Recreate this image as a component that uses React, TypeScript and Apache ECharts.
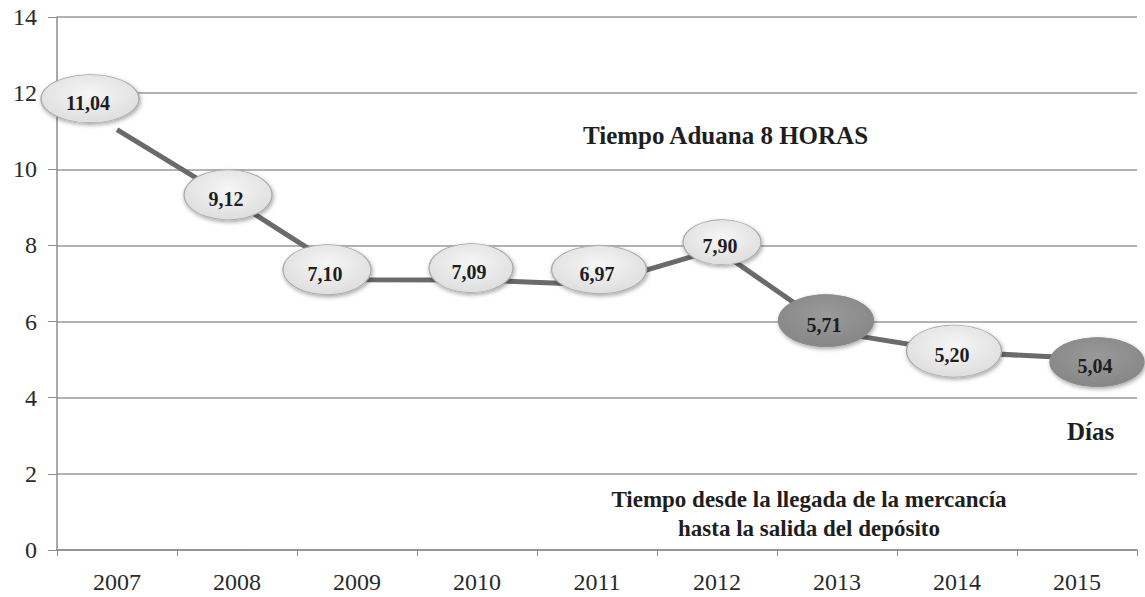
import React, { useEffect, useRef } from "react";
import * as echarts from "echarts";

const years = ["2007", "2008", "2009", "2010", "2011", "2012", "2013", "2014", "2015"];
const days = [11.04, 9.12, 7.1, 7.09, 6.97, 7.9, 5.71, 5.2, 5.04];
const darkYears = ["2013", "2015"];
const yTicks = { min: 0, max: 14, interval: 2 };

// label-bubble placement (style only, pixels relative to each point)
const bubbleShift: [number, number][] = [
  [-27, -31], [-9, -8], [-30, -10], [-6, -12], [2, -15], [5, -7], [-11, -12], [-3, -1], [20, 4],
];
const bubbleSize: [number, number][] = [
  [98, 48], [88, 50], [88, 50], [84, 49], [95, 48], [78, 45], [95, 52], [95, 52], [94, 49],
];

const SERIF = "Liberation Serif";

export default function App() {
  const ref = useRef<HTMLDivElement>(null);
  useEffect(() => {
    document.body.style.margin = "0";
    const chart = echarts.init(ref.current!, null, { renderer: "svg" });
    const light = {
      type: "radial", x: 0.5, y: 0.4, r: 0.65,
      colorStops: [{ offset: 0, color: "#f6f6f6" }, { offset: 1, color: "#dcdcdc" }],
    };
    const dark = {
      type: "radial", x: 0.5, y: 0.4, r: 0.65,
      colorStops: [{ offset: 0, color: "#9a9a9a" }, { offset: 1, color: "#858585" }],
    };
    const bubbles = days.map((v, i) => {
      const isDark = darkYears.includes(years[i]);
      return {
        value: v,
        symbolSize: bubbleSize[i],
        symbolOffset: bubbleShift[i],
        itemStyle: {
          color: isDark ? dark : light,
          opacity: 1,
          borderColor: isDark ? "#8a8a8a" : "#a9a9a9",
          borderWidth: 1,
          shadowBlur: 4,
          shadowColor: "rgba(0,0,0,0.35)",
          shadowOffsetY: 2,
          shadowOffsetX: 1,
        },
      };
    });
    chart.setOption({
      animation: false,
      grid: { left: 57, right: 8, top: 17, bottom: 47, containLabel: false },
      xAxis: {
        type: "category",
        data: years,
        boundaryGap: true,
        axisLine: { lineStyle: { color: "#8c8c8c", width: 1.5 } },
        axisTick: { show: true, length: 6, lineStyle: { color: "#8c8c8c" } },
        axisLabel: { color: "#2a2a2a", fontFamily: SERIF, fontSize: 24, margin: 20 },
        splitLine: { show: false },
      },
      yAxis: {
        type: "value",
        min: yTicks.min,
        max: yTicks.max,
        interval: yTicks.interval,
        axisLine: { show: true, lineStyle: { color: "#8c8c8c", width: 1.5 } },
        axisTick: { show: true, length: 9, lineStyle: { color: "#8c8c8c" } },
        axisLabel: { color: "#2a2a2a", fontFamily: SERIF, fontSize: 24, margin: 20 },
        splitLine: { lineStyle: { color: "#9a9a9a", width: 1.5 } },
      },
      series: [
        {
          type: "line",
          data: days,
          symbol: "none",
          lineStyle: { color: "#6a6a6a", width: 5 },
          z: 2,
        },
        {
          type: "scatter",
          data: bubbles,
          symbol: "circle",
          z: 3,
          label: {
            show: true,
            position: "inside",
            offset: [-2, 4],
            color: "#1e1e1e",
            fontFamily: SERIF,
            fontWeight: "bold",
            fontSize: 20,
            formatter: (p: any) => Number(p.value).toFixed(2).replace(".", ","),
          },
        },
      ],
      graphic: [
        {
          type: "text", x: 583, y: 135,
          style: { text: "Tiempo Aduana 8 HORAS", fontFamily: SERIF, fontWeight: "bold", fontSize: 25, fill: "#1e1e1e", verticalAlign: "middle" },
        },
        {
          type: "text", x: 1067, y: 431,
          style: { text: "Días", fontFamily: SERIF, fontWeight: "bold", fontSize: 25, fill: "#1e1e1e", verticalAlign: "middle" },
        },
        {
          type: "text", x: 809, y: 514,
          style: {
            text: "Tiempo desde la llegada de la mercancía\nhasta la salida del depósito",
            fontFamily: SERIF, fontWeight: "bold", fontSize: 23, fill: "#1e1e1e", align: "center", verticalAlign: "middle", lineHeight: 29,
          },
        },
      ],
    });
    return () => chart.dispose();
  }, []);
  return <div ref={ref} style={{ width: 1145, height: 597 }} />;
}
